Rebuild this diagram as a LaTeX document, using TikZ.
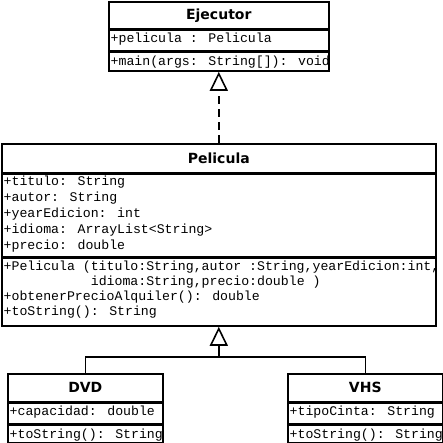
\documentclass[tikz,border=0pt]{standalone}
\usepackage{fontspec}
\usetikzlibrary{arrows.meta,positioning}
\newfontfamily\umltitlefont{DejaVu Sans}
\newfontfamily\umlmonofont{Liberation Mono}
\tikzset{
  compartment/.style={draw, line width=1.6pt, anchor=north west, inner sep=0pt},
  classname/.style={compartment, font=\fontsize{14}{16}\selectfont\umltitlefont\bfseries},
  members/.style={anchor=north west, inner xsep=2.5pt, inner ysep=1.8pt, align=left,
    font=\fontsize{13.2}{16.2}\selectfont\umlmonofont, execute at begin node=\strut},
  methods/.style={members, inner ysep=3.5pt, font=\fontsize{13.2}{15}\selectfont\umlmonofont},
  herencia/.style={line width=1.6pt, -{Triangle[open, length=19pt, width=18pt]}},
  realiza/.style={herencia, dash pattern=on 8pt off 5pt},
}
\begin{document}
\begin{tikzpicture}[x=1pt, y=-1pt]
\useasboundingbox (0,0) rectangle (443,443);
% Ejecutor
\node[classname, minimum width=220pt, minimum height=27pt] (ejecutor) at (108,1) {Ejecutor};
\node[compartment, minimum width=220pt, minimum height=20pt] (ejecutor-attr) at (ejecutor.south west) {};
\node[compartment, minimum width=220pt, minimum height=19pt] (ejecutor-meth) at (ejecutor-attr.south west) {};
\node[members] (ejecutor-attr-txt) at (ejecutor-attr.north west) {+pelicula : Pelicula};
\node[methods] (ejecutor-meth-txt) at (ejecutor-meth.north west) {+main(args: String[]): void};
% Pelicula
\node[classname, minimum width=434pt, minimum height=29pt] (pelicula) at (1,143) {Pelicula};
\node[compartment, minimum width=434pt, minimum height=82pt] (pelicula-attr) at (pelicula.south west) {};
\node[compartment, minimum width=434pt, minimum height=68pt] (pelicula-meth) at (pelicula-attr.south west) {};
\node[members] (pelicula-attr-txt) at (pelicula-attr.north west)
  {+titulo: String\\ +autor: String\\ +yearEdicion: int\\ +idioma: ArrayList<String>\\ +precio: double};
\node[methods] (pelicula-meth-txt) at (pelicula-meth.north west)
  {+Pelicula (titulo:String,autor :String,yearEdicion:int,\\
   \phantom{+Pelicula (}idioma:String,precio:double )\\
   +obtenerPrecioAlquiler(): double\\ +toString(): String};
% DVD
\node[classname, minimum width=155pt, minimum height=28pt] (dvd) at (7,373) {DVD};
\node[compartment, minimum width=155pt, minimum height=20pt] (dvd-attr) at (dvd.south west) {};
\node[compartment, minimum width=155pt, minimum height=18pt] (dvd-meth) at (dvd-attr.south west) {};
\node[members] (dvd-attr-txt) at (dvd-attr.north west) {+capacidad: double};
\node[methods] (dvd-meth-txt) at (dvd-meth.north west) {+toString(): String};
% VHS
\node[classname, minimum width=155pt, minimum height=28pt] (vhs) at (287,373) {VHS};
\node[compartment, minimum width=155pt, minimum height=20pt] (vhs-attr) at (vhs.south west) {};
\node[compartment, minimum width=155pt, minimum height=18pt] (vhs-meth) at (vhs-attr.south west) {};
\node[members] (vhs-attr-txt) at (vhs-attr.north west) {+tipoCinta: String};
\node[methods] (vhs-meth-txt) at (vhs-meth.north west) {+toString(): String};
% relaciones
\draw[realiza] (pelicula.north) -- (pelicula.north |- ejecutor-meth.south);
\coordinate (union) at (pelicula-meth.south |- 0,357);
\draw[line width=1.6pt] (dvd.north) -- (dvd.north |- union) -- (vhs.north |- union) -- (vhs.north);
\draw[herencia] (union) -- (pelicula-meth.south);
\end{tikzpicture}
\end{document}
